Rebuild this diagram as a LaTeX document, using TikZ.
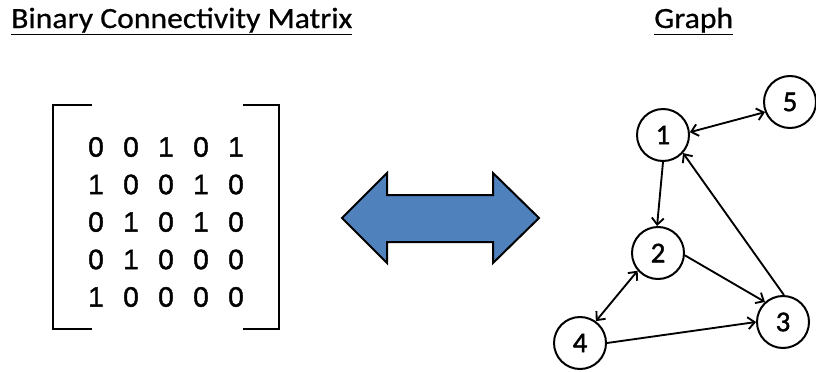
\documentclass[tikz,border=0pt]{standalone}
\usepackage{fontspec}
\setmainfont{Carlito}
\newfontfamily\headfont[FakeStretch=1.08,FakeBold=0.6]{Carlito}
\newfontfamily\numfont[FakeBold=1.5]{Carlito}
\newfontfamily\matfont[FakeBold=1.5]{Liberation Sans}
\usetikzlibrary{arrows.meta}
\definecolor{arrowblue}{HTML}{4F81BD}
\begin{document}
\begin{tikzpicture}[x=0.75pt,y=-0.75pt,
  title/.style={anchor=base west,inner sep=0pt,font=\headfont\fontsize{22}{26}\selectfont},
  vertex/.style={circle,draw,line width=1.5pt,minimum size=39pt,inner sep=0pt,
    font=\numfont\fontsize{21.5}{25}\selectfont},
  edge/.style={line width=1.4pt,-{Straight Barb[length=5pt,width=9pt,line width=1.4pt]}},
  biedge/.style={line width=1.4pt,{Straight Barb[length=5pt,width=9pt,line width=1.4pt]}-{Straight Barb[length=5pt,width=9pt,line width=1.4pt]}},
  bracket/.style={line width=2.2pt},
  entry/.style={inner sep=0pt,font=\matfont\fontsize{21}{25}\selectfont}]
\useasboundingbox (0,0) rectangle (816,371);

% headings
\node[title] (t1) at (11,28) {\underline{Binary Connectivity Matrix}};
\node[title] (t2) at (654,28) {\underline{Graph}};

% matrix brackets
\draw[bracket] (92,105) -- (53,105) -- (53,329) -- (92,329);
\draw[bracket] (243,105) -- (279,105) -- (279,329) -- (243,329);

% matrix entries
\foreach \row [count=\i] in {{0,0,1,0,1},{1,0,0,1,0},{0,1,0,1,0},{0,1,0,0,0},{1,0,0,0,0}}{
  \foreach \v [count=\j] in \row {
    \node[entry] (m\i\j) at ({96+35*(\j-1)},{147+37.5*(\i-1)}) {\v};
  }
}

% two-headed block arrow
\draw[line width=1.5pt,fill=arrowblue,line join=miter]
  (342,218) -- (387,173) -- (387,195) -- (493,195) -- (493,173) -- (539,218)
  -- (493,263) -- (493,242) -- (387,242) -- (387,263) -- cycle;

% graph
\node[vertex] (n1) at (663,135) {1};
\node[vertex] (n2) at (658,253) {2};
\node[vertex] (n3) at (783,322) {3};
\node[vertex] (n4) at (580,343) {4};
\node[vertex] (n5) at (790,102) {5};

\draw[biedge] (n1.6) -- (n5.-158);
\draw[edge] (n1.270) -- (n2.92);
\draw[edge] (n3.88) -- (n1.-42);
\draw[edge] (n2.-5) -- (n3.132);
\draw[edge] (n4.0) -- (n3.180);
\draw[biedge] (n2.-139) -- (n4.54);
\end{tikzpicture}
\end{document}
